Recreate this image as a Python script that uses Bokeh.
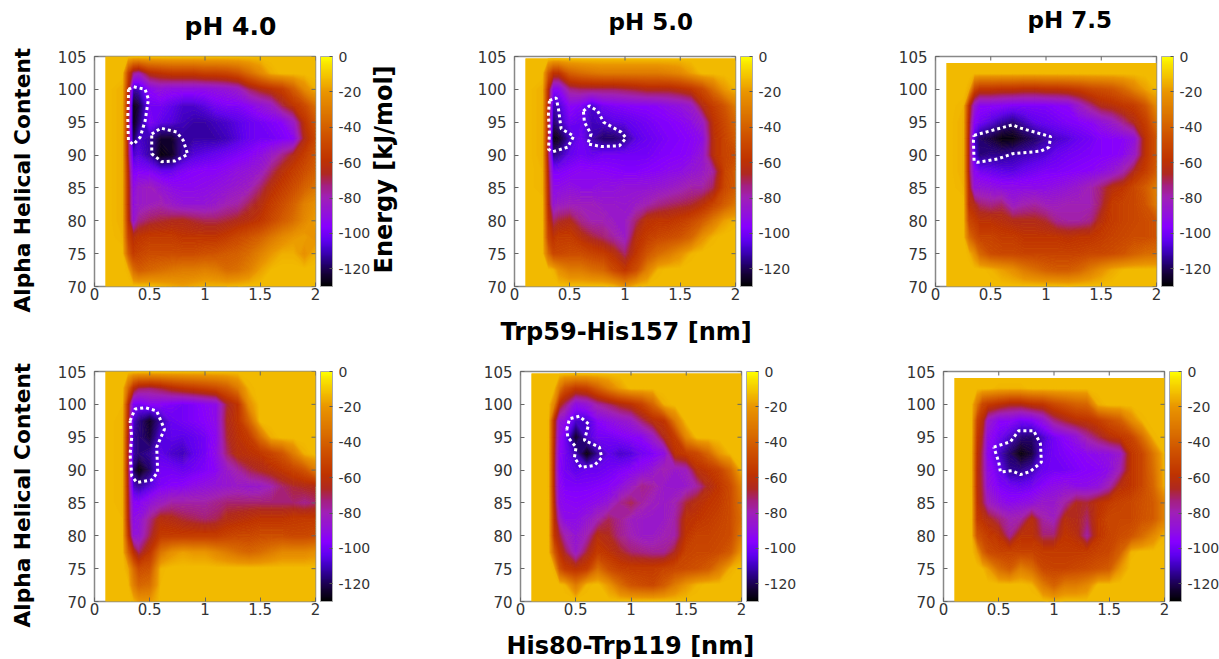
from bokeh.plotting import figure
from bokeh.layouts import column, row
from bokeh.models import ColorBar, LinearColorMapper, FixedTicker, Title, Range1d
from bokeh.embed import file_html
from bokeh.resources import INLINE
import numpy as np

X_NM = [0.1,0.25,0.3,0.35,0.4,0.5,0.6,0.7,0.8,0.9,1.0,1.1,1.2,1.3,1.4,1.5,1.6,1.7,1.8,1.9,2.0]
HELIX = [105,102.5,100,97.5,95,92.5,90,87.5,85,82.5,80,77.5,75,72.5,70]
BG = -12

E_TRP59_PH40 = [
 [],
 [-12,-12,-50,-75,-80,-62,-58,-55,-55,-55,-52,-52,-50,-45,-35,-25,-15],
 [-12,-15,-60,-112,-110,-95,-90,-92,-92,-92,-92,-90,-88,-85,-72,-65,-60,-55,-42,-25,-15],
 [-12,-15,-65,-128,-122,-100,-100,-104,-108,-108,-105,-100,-98,-98,-95,-90,-85,-70,-60,-50,-35],
 [-12,-15,-68,-128,-118,-98,-104,-106,-110,-112,-112,-110,-108,-105,-102,-100,-98,-96,-85,-60,-45],
 [-12,-15,-70,-122,-108,-112,-124,-124,-113,-112,-112,-112,-110,-106,-102,-100,-100,-98,-95,-65,-50],
 [-12,-15,-68,-108,-105,-112,-128,-125,-112,-106,-104,-102,-100,-98,-96,-92,-85,-75,-65,-55,-45],
 [-12,-15,-62,-98,-97,-98,-102,-102,-98,-96,-95,-95,-93,-90,-88,-85,-72,-62,-55,-48,-40],
 [-12,-15,-60,-92,-85,-82,-88,-92,-93,-93,-92,-90,-88,-85,-82,-72,-62,-55,-48,-40,-32],
 [-12,-15,-60,-90,-85,-82,-80,-85,-88,-88,-88,-85,-80,-78,-70,-64,-55,-48,-40,-28,-22],
 [-12,-15,-58,-88,-75,-70,-68,-66,-65,-68,-70,-70,-68,-65,-62,-58,-50,-42,-35,-25,-18],
 [-12,-14,-50,-62,-58,-55,-55,-55,-58,-58,-58,-58,-55,-50,-45,-40,-32,-25,-20,-18,-22],
 [-12,-12,-40,-55,-52,-48,-48,-48,-48,-48,-46,-45,-42,-40,-35,-28,-20,-15,-15,-22,-15],
 [-12,-12,-14,-35,-42,-38,-35,-32,-30,-30,-28,-30,-36,-34,-28,-18,-13],
 [-12,-12,-12,-12,-12,-12,-14,-16,-18,-16,-14,-14,-14,-13],
]
E_TRP59_PH50 = [
 [],
 [-12,-12,-40,-58,-58,-40,-35,-32,-30,-30,-30,-30,-30,-30,-28,-25,-18],
 [-12,-15,-60,-95,-95,-75,-72,-72,-72,-72,-70,-68,-65,-65,-65,-62,-58,-50,-35,-20,-14],
 [-12,-15,-62,-112,-108,-95,-98,-108,-100,-98,-97,-96,-96,-95,-92,-90,-85,-65,-55,-45,-30],
 [-12,-15,-65,-118,-112,-100,-102,-110,-108,-105,-104,-102,-100,-98,-97,-95,-92,-85,-60,-50,-38],
 [-12,-15,-68,-128,-125,-110,-100,-112,-118,-118,-114,-105,-102,-100,-98,-97,-95,-92,-62,-52,-42],
 [-12,-15,-70,-115,-112,-103,-100,-102,-100,-100,-100,-100,-100,-98,-97,-96,-94,-88,-62,-52,-48],
 [-12,-14,-65,-98,-98,-96,-94,-94,-95,-96,-97,-97,-96,-95,-93,-92,-88,-85,-78,-52,-42],
 [-12,-14,-62,-92,-92,-90,-92,-92,-90,-90,-88,-88,-88,-87,-85,-82,-78,-78,-70,-50,-42],
 [-12,-12,-60,-88,-84,-82,-82,-82,-85,-85,-86,-84,-80,-75,-72,-70,-68,-62,-52,-42,-32],
 [-12,-12,-55,-72,-68,-65,-75,-80,-80,-84,-84,-72,-60,-58,-58,-55,-50,-42,-30,-18,-14],
 [-12,-12,-50,-60,-55,-55,-62,-68,-72,-78,-84,-62,-55,-50,-48,-45,-38,-22,-14],
 [-12,-12,-35,-50,-50,-48,-48,-52,-55,-62,-72,-58,-45,-36,-30,-22,-14],
 [-12,-12,-12,-14,-22,-30,-30,-35,-38,-50,-58,-48,-28,-14],
 [-12,-12,-12,-12,-12,-12,-12,-12,-12,-14,-22,-14],
]
E_TRP59_PH75 = [
 [],
 [],
 [-12,-12,-15,-50,-58,-58,-60,-60,-62,-62,-60,-60,-58,-55,-50,-48,-45,-38,-28,-18,-13],
 [-12,-14,-60,-85,-95,-95,-96,-98,-98,-98,-98,-96,-95,-85,-75,-65,-62,-58,-55,-45,-25],
 [-12,-15,-65,-95,-100,-106,-112,-116,-110,-104,-102,-100,-98,-97,-95,-90,-85,-75,-65,-55,-35],
 [-12,-15,-68,-108,-118,-122,-128,-128,-122,-118,-112,-108,-106,-102,-100,-97,-96,-95,-90,-60,-45],
 [-12,-15,-68,-105,-116,-114,-114,-112,-110,-108,-106,-102,-100,-99,-98,-97,-96,-94,-85,-60,-45],
 [-12,-15,-68,-95,-100,-102,-104,-105,-102,-100,-98,-98,-97,-96,-95,-92,-88,-80,-65,-55,-42],
 [-12,-14,-62,-88,-88,-90,-92,-92,-92,-92,-92,-90,-88,-85,-80,-72,-62,-58,-50,-42,-28],
 [-12,-12,-60,-65,-72,-75,-72,-85,-80,-78,-82,-82,-80,-80,-80,-70,-55,-52,-50,-45,-30],
 [-12,-12,-50,-55,-60,-60,-62,-65,-65,-65,-68,-76,-78,-78,-75,-62,-55,-52,-50,-48,-45],
 [-12,-12,-35,-45,-52,-52,-55,-55,-58,-58,-58,-58,-60,-58,-58,-55,-52,-50,-48,-48,-45],
 [-12,-12,-14,-22,-38,-48,-50,-50,-52,-52,-52,-52,-52,-52,-50,-50,-48,-45,-40,-36,-35],
 [-12,-12,-12,-12,-12,-14,-18,-22,-30,-35,-40,-42,-42,-38,-30,-22,-16,-13],
 [-12,-12,-12,-12,-12,-12,-12,-12,-12,-12,-12,-12,-13],
]
E_HIS80_PH40 = [
 [],
 [-12,-12,-35,-60,-70,-72,-68,-62,-58,-55,-52,-48,-42,-30,-14],
 [-12,-13,-60,-98,-100,-95,-96,-98,-100,-98,-95,-92,-68,-58,-22],
 [-12,-14,-62,-108,-115,-125,-112,-102,-100,-98,-96,-92,-66,-58,-38],
 [-12,-14,-65,-112,-116,-122,-106,-104,-105,-103,-100,-94,-68,-60,-55,-35,-15],
 [-12,-14,-66,-112,-116,-113,-104,-108,-110,-104,-100,-92,-72,-62,-60,-58,-52,-45,-30,-15],
 [-12,-14,-68,-118,-128,-118,-100,-100,-102,-100,-98,-95,-85,-78,-70,-66,-62,-58,-52,-45,-30],
 [-12,-14,-66,-108,-112,-105,-98,-96,-95,-92,-90,-88,-86,-84,-86,-85,-80,-72,-68,-66,-65],
 [-12,-14,-64,-95,-96,-90,-84,-78,-78,-78,-78,-75,-72,-72,-72,-72,-72,-72,-72,-75,-72],
 [-12,-13,-62,-92,-90,-75,-62,-64,-68,-70,-72,-70,-64,-62,-60,-58,-58,-58,-56,-55,-55],
 [-12,-13,-55,-88,-88,-70,-55,-55,-55,-55,-55,-55,-52,-50,-50,-48,-48,-48,-50,-50,-48],
 [-12,-12,-38,-60,-72,-58,-32,-22,-18,-20,-20,-25,-30,-35,-38,-35,-30,-25,-25,-25,-22],
 [-12,-12,-16,-35,-48,-45,-14],
 [-12,-12,-12,-28,-38,-35,-13],
 [-12,-12,-12,-14,-20,-20],
]
E_HIS80_PH50 = [
 [],
 [-12,-12,-12,-30,-45,-55,-52,-40,-28,-18],
 [-12,-12,-25,-62,-72,-92,-88,-78,-72,-65,-60,-52,-38,-15],
 [-12,-13,-60,-88,-92,-108,-108,-96,-92,-88,-85,-72,-62,-58,-30],
 [-12,-13,-62,-92,-100,-125,-108,-100,-100,-98,-96,-95,-85,-65,-55,-25],
 [-12,-13,-64,-95,-100,-110,-128,-113,-104,-108,-106,-100,-98,-92,-60,-55,-50,-38,-20,-13],
 [-12,-13,-65,-96,-100,-104,-102,-102,-100,-98,-96,-92,-88,-80,-85,-82,-62,-58,-52,-38,-14],
 [-12,-13,-65,-94,-98,-98,-98,-97,-96,-92,-85,-75,-78,-85,-86,-85,-78,-65,-58,-48,-28],
 [-12,-12,-62,-92,-94,-95,-94,-92,-88,-76,-70,-78,-82,-84,-80,-68,-62,-58,-55,-48,-32],
 [-12,-12,-58,-82,-92,-92,-88,-80,-70,-76,-82,-84,-85,-84,-78,-60,-58,-55,-52,-48,-35],
 [-12,-12,-55,-68,-80,-88,-80,-62,-66,-75,-80,-84,-84,-80,-78,-58,-52,-52,-50,-48,-30],
 [-12,-12,-40,-58,-68,-85,-68,-55,-60,-66,-72,-74,-76,-76,-66,-52,-50,-50,-48,-42,-20],
 [-12,-12,-14,-45,-55,-60,-55,-35,-48,-54,-55,-55,-55,-52,-50,-48,-46,-42,-30,-15],
 [-12,-12,-12,-12,-14,-30,-14,-12,-20,-35,-45,-48,-50,-42,-30,-20,-14],
 [],
]
E_HIS80_PH75 = [
 [],
 [-12,-12,-12,-12,-12,-14,-14,-14],
 [-12,-12,-30,-50,-55,-60,-65,-65,-60,-58,-50,-45,-40,-38,-15],
 [-12,-12,-50,-62,-85,-95,-95,-100,-98,-90,-75,-68,-62,-60,-55,-48,-42,-25,-14],
 [-12,-12,-55,-68,-92,-100,-108,-116,-118,-108,-100,-95,-90,-78,-70,-62,-58,-52,-35,-14],
 [-12,-13,-58,-72,-95,-108,-118,-128,-122,-105,-100,-98,-96,-94,-92,-90,-85,-58,-50,-32,-13],
 [-12,-13,-60,-72,-92,-102,-114,-114,-110,-102,-100,-100,-98,-96,-95,-92,-80,-58,-50,-35,-14],
 [-12,-13,-60,-70,-90,-98,-100,-102,-100,-96,-92,-90,-92,-92,-90,-80,-62,-58,-50,-38,-15],
 [-12,-12,-58,-68,-82,-90,-94,-92,-90,-85,-85,-78,-66,-68,-60,-55,-52,-50,-46,-42,-28],
 [-12,-12,-55,-60,-64,-72,-80,-78,-62,-78,-82,-62,-65,-72,-58,-50,-50,-50,-45,-42,-28],
 [-12,-12,-45,-50,-55,-60,-76,-60,-60,-72,-72,-58,-62,-78,-58,-52,-48,-45,-36,-25,-14],
 [-12,-12,-18,-38,-48,-52,-52,-52,-52,-55,-55,-55,-55,-55,-52,-50,-40,-14],
 [-12,-12,-12,-13,-18,-35,-42,-28,-35,-50,-52,-52,-50,-48,-45,-42,-20],
 [-12,-12,-12,-12,-12,-12,-12,-12,-14,-30,-40,-30,-30,-25],
 [-12,-12,-12,-12,-12,-12,-12,-12,-12,-12,-14],
]

TOP_ROW = [105, 104.7, 104, 105, 104.7, 104]

OUTLINES = [
 [([.307,.352,.458,.488,.458,.413,.352,.307,.301,.307,.307],[100,100.4,100,98.5,95.2,92.7,91.6,92.2,95.7,98.3,100]),
  ([.518,.602,.744,.804,.843,.729,.608,.518,.518],[93.2,94.1,93.5,92.2,90.1,89.1,89,90.2,93.2])],
 [([.316,.377,.398,.422,.536,.482,.346,.307,.316,.307,.316],[98.3,98.7,97,94,92.9,91.2,90.5,90.9,93.2,96.2,98.3]),
  ([.623,.678,.753,.807,.964,1.009,.949,.783,.663,.693,.633,.623],[96.7,97.5,96.7,95,93.5,92.6,91.4,91.3,91.7,93.2,95,96.7])],
 [([.349,.696,.771,1.042,1.027,.952,.696,.56,.38,.349,.343,.349],[93,94.6,94.1,92.8,91.2,90.6,90.2,89.4,88.9,89.1,92.2,93])],
 [([.322,.367,.458,.563,.633,.563,.572,.518,.383,.337,.322,.337,.322],[97.5,99.3,99.5,99,96.2,93.5,89.7,88.5,88.1,89.1,92.4,95,97.5])],
 [([.419,.443,.533,.617,.578,.714,.735,.669,.548,.488,.503,.428,.419],[96.2,97.8,98.2,97,94.5,93.5,91.9,90.7,90.4,91.9,93.5,95,96.2])],
 [([.455,.605,.681,.816,.877,.886,.786,.696,.62,.515,.5,.455],[93.5,94.3,96,96,94,91.2,89.8,89.3,89.9,89.7,91.2,93.5])],
]

CB_STOPS = [-130,-122,-116,-110,-104,-96,-90,-80,-73,-66,-58,-45,-32,-20,-12,-5,0]
CB_COLORS = ["#000000","#180040","#280080","#4000c0","#6000f0","#8800ff","#9010e0","#a020b8","#a52080","#b02a20","#c03400","#cf5200","#dd7600","#ea9500","#f3be00","#f9e000","#ffff00"]
CB_TICKS = [-120,-100,-80,-60,-40,-20,0]
CB_LABELS = {-120:"-120",-100:"-100",-80:"-80",-60:"-60",-40:"-40",-20:"-20",0:"0"}
X_TICKS = [0,0.5,1,1.5,2]
Y_TICKS = [70,75,80,85,90,95,100,105]

def hexrgb(h):
    return [int(h[i:i+2],16) for i in (1,3,5)]
vals = np.linspace(-130,0,256)
rgb = np.array([hexrgb(c) for c in CB_COLORS],float)
interp = np.stack([np.interp(vals,CB_STOPS,rgb[:,i]) for i in range(3)],axis=1).astype(int)
PALETTE = ["#%02x%02x%02x"%tuple(c) for c in interp]

LEVELS = list(range(-130,1,1))
def band_color(v):
    return PALETTE[int(round((v+130)/130*255))]
FILLS = [band_color(v+0.5) for v in LEVELS[:-1]]
LINES = [band_color(v) for v in LEVELS]

TXT="#333333"
FONT="DejaVu Sans"
EDGE="#888888"
TICK="#666666"

def panel(grid, top, outlines, left, right, tb, bb, margin):
    p = figure(frame_width=221, frame_height=230, min_border_left=left, min_border_right=right,
               min_border_top=tb, min_border_bottom=bb,
               x_range=Range1d(0,2), y_range=Range1d(70,105),
               output_backend="svg", toolbar_location=None, tools="", margin=margin,
               outline_line_color=EDGE, outline_line_width=1.5, background_fill_color="white",
               border_fill_color=None)
    p.grid.visible=False
    rows=[list(r)+[BG]*(len(X_NM)-len(r)) for r in grid]
    z=np.array(rows[::-1],float)
    y=np.array(HELIX[::-1],float); y[-1]=top
    x=np.array(X_NM)
    p.quad(left=[X_NM[0]],right=[X_NM[-1]],bottom=[HELIX[-1]],top=[top],fill_color=band_color(BG),line_color=None)
    p.contour(x,y,z,LEVELS,fill_color=FILLS,line_color=LINES,line_width=1)
    for ox,oy in outlines:
        p.line(ox,oy,line_color="white",line_width=3,line_dash="3 3")
    for ax in (p.xaxis[0],p.yaxis[0]):
        ax.axis_line_color=None
        ax.major_tick_in=4; ax.major_tick_out=0; ax.minor_tick_line_color=None
        ax.major_tick_line_color=TICK
        ax.major_label_text_font=FONT; ax.major_label_text_font_size="15px"
        ax.major_label_text_color=TXT
    p.xaxis[0].major_label_standoff=1
    p.yaxis[0].major_label_standoff=8
    p.xaxis[0].ticker=FixedTicker(ticks=X_TICKS)
    p.xaxis[0].major_label_overrides={0:"0",0.5:"0.5",1:"1",1.5:"1.5",2:"2"}
    p.yaxis[0].ticker=FixedTicker(ticks=Y_TICKS)
    # mirrored ticks on the top and right frame edges
    p.scatter([2]*len(Y_TICKS),Y_TICKS,marker="dash",size=8,line_color=TICK,fill_color=None)
    p.scatter(X_TICKS,[105]*len(X_TICKS),marker="dash",size=8,angle=np.pi/2,line_color=TICK,fill_color=None)
    cm=LinearColorMapper(palette=PALETTE,low=-130,high=0)
    cb=ColorBar(color_mapper=cm,ticker=FixedTicker(ticks=CB_TICKS),major_label_overrides=CB_LABELS,width=12,height=230,
                padding=0,margin=0,location=(226,0),bar_line_color="#aaaaaa",major_tick_line_color="#555555",
                major_tick_in=3,major_tick_out=0,minor_tick_line_color=None,label_standoff=6,
                major_label_text_font=FONT,major_label_text_font_size="14px",major_label_text_color=TXT,
                background_fill_color=None,border_line_color=None)
    p.add_layout(cb)
    return p

def txt(p,side,s,size,offset,standoff):
    p.add_layout(Title(text=s,text_font=FONT,text_font_style="bold",text_font_size=size,text_color="black",
                       align="left",offset=offset,standoff=standoff),side)

ALL=[E_TRP59_PH40,E_TRP59_PH50,E_TRP59_PH75,E_HIS80_PH40,E_HIS80_PH50,E_HIS80_PH75]
p1=panel(ALL[0],TOP_ROW[0],OUTLINES[0],106,57,84,85,(-28,0,-26,-13))
p2=panel(ALL[1],TOP_ROW[1],OUTLINES[1],226,96,84,85,(-28,0,-26,-84))
p3=panel(ALL[2],TOP_ROW[2],OUTLINES[2],104,64,84,85,(-28,0,-26,0))
p4=panel(ALL[3],TOP_ROW[3],OUTLINES[3],106,106,26,80,(0,0,-22,-13))
p5=panel(ALL[4],TOP_ROW[4],OUTLINES[4],99,90,26,80,(0,0,-22,0))
p6=panel(ALL[5],TOP_ROW[5],OUTLINES[5],112,56,26,80,(0,0,-22,0))

txt(p1,"above","pH 4.0","25px",90,32)
txt(p2,"above","pH 5.0","23px",94,44)
txt(p3,"above","pH 7.5","23px",92,48)
txt(p1,"left","Alpha Helical Content","21.7px",-26,40)
txt(p4,"left","Alpha Helical Content","21.7px",-26,40)
txt(p2,"left","Energy [kJ/mol]","24px",13,154)
txt(p2,"below","Trp59-His157 [nm]","24px",-14,27)
txt(p5,"below","His80-Trp119 [nm]","24px",-14,24)

layout=column(row(p1,p2,p3,margin=(0,0,0,0)),row(p4,p5,p6,margin=(0,0,0,0)),margin=(0,0,0,0))
open("out.html","w").write(file_html(layout,INLINE))
